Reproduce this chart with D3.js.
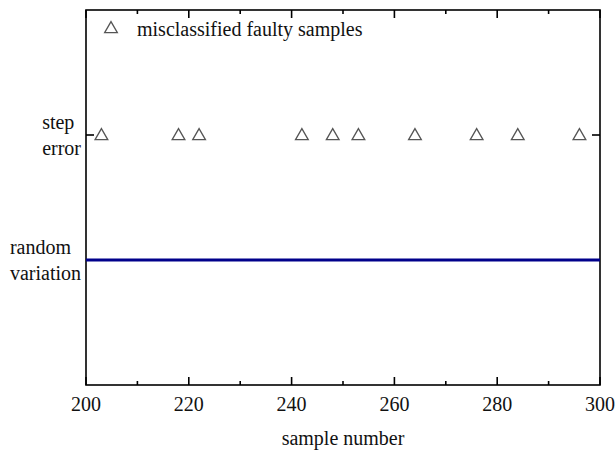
<!DOCTYPE html>
<html>
<head>
<meta charset="utf-8">
<script src="https://cdn.jsdelivr.net/npm/d3@7"></script>
<style>
body { margin: 0; background: #fff; }
svg { display: block; }
svg text { font-family: "Liberation Serif", "Times New Roman", serif; fill: #111; }
</style>
</head>
<body>
<svg width="616" height="455" font-family="Liberation Serif, Times New Roman, serif"></svg>
<script>
// misclassified faulty samples (all at the "step error" level)
const faultySamples = [203, 218, 222, 242, 248, 253, 264, 276, 284, 296];
const xTicks = [200, 220, 240, 260, 280, 300];
const minorTicks = [210, 230, 250, 270, 290];
// categorical levels on the y axis
const levels = [
    {name: "random variation", lines: ["random", "variation"], value: 1},
    {name: "step error", lines: ["step", "error"], value: 2}
];
const lineRange = [200, 300];

const svg = d3.select("svg");
const margin = {left: 86, right: 16, top: 10, bottom: 70};
const width = 616, height = 455;

const x = d3.scaleLinear().domain([200, 300]).range([margin.left, width - margin.right]);
const y = d3.scaleLinear().domain([0, 3]).range([height - margin.bottom, margin.top]);

const x0 = x.range()[0], x1 = x.range()[1];
const y0 = y.range()[0], y1 = y.range()[1];

// frame
svg.append("rect")
    .attr("x", x0).attr("y", y1)
    .attr("width", x1 - x0).attr("height", y0 - y1)
    .attr("fill", "none").attr("stroke", "#000").attr("stroke-width", 1.6);

// x ticks (inward, bottom and top)
const tickG = svg.append("g").attr("stroke", "#000").attr("stroke-width", 1.6);
xTicks.forEach(t => {
    tickG.append("line").attr("x1", x(t)).attr("x2", x(t)).attr("y1", y0).attr("y2", y0 - 8);
    tickG.append("line").attr("x1", x(t)).attr("x2", x(t)).attr("y1", y1).attr("y2", y1 + 8);
});
minorTicks.forEach(t => {
    tickG.append("line").attr("x1", x(t)).attr("x2", x(t)).attr("y1", y0).attr("y2", y0 - 4);
    tickG.append("line").attr("x1", x(t)).attr("x2", x(t)).attr("y1", y1).attr("y2", y1 + 4);
});
// y ticks
levels.forEach(l => {
    tickG.append("line").attr("x1", x0).attr("x2", x0 + 8).attr("y1", y(l.value)).attr("y2", y(l.value));
    tickG.append("line").attr("x1", x1).attr("x2", x1 - 8).attr("y1", y(l.value)).attr("y2", y(l.value));
});

// x tick labels
svg.append("g").selectAll("text").data(xTicks).join("text")
    .attr("x", d => x(d)).attr("y", y0 + 26)
    .attr("text-anchor", "middle")
    .attr("font-size", 20)
    .text(d => d);

svg.append("text")
    .attr("x", (x0 + x1) / 2).attr("y", y0 + 60)
    .attr("text-anchor", "middle")
    .attr("font-size", 20)
    .text("sample number");

// y category labels, left aligned block ending near the axis
levels.forEach(l => {
    const t = svg.append("text")
        .attr("font-size", 20);
    t.selectAll("tspan").data(l.lines).join("tspan")
        .attr("y", (s, i) => y(l.value) - 6 + i * 26)
        .text(s => s);
    // shift block so its widest line ends just left of the axis
    const w = d3.max(t.selectAll("tspan").nodes(), n => n.getComputedTextLength());
    t.selectAll("tspan").attr("x", x0 - 5 - w);
});

// random variation line
svg.append("line")
    .attr("x1", x(lineRange[0])).attr("x2", x(lineRange[1]))
    .attr("y1", y(1)).attr("y2", y(1))
    .attr("stroke", "#00008b").attr("stroke-width", 3);

// triangles
const tri = d3.symbol().type(d3.symbolTriangle).size(70);
svg.append("g").selectAll("path").data(faultySamples).join("path")
    .attr("d", tri)
    .attr("transform", d => `translate(${x(d)},${y(2) + 1})`)
    .attr("fill", "none").attr("stroke", "#555").attr("stroke-width", 1.3);

// legend
svg.append("path")
    .attr("d", tri)
    .attr("transform", `translate(111,${y1 + 19})`)
    .attr("fill", "none").attr("stroke", "#555").attr("stroke-width", 1.3);
svg.append("text")
    .attr("x", 137).attr("y", y1 + 26)
    .attr("font-size", 20)
    .text("misclassified faulty samples");
</script>
</body>
</html>
